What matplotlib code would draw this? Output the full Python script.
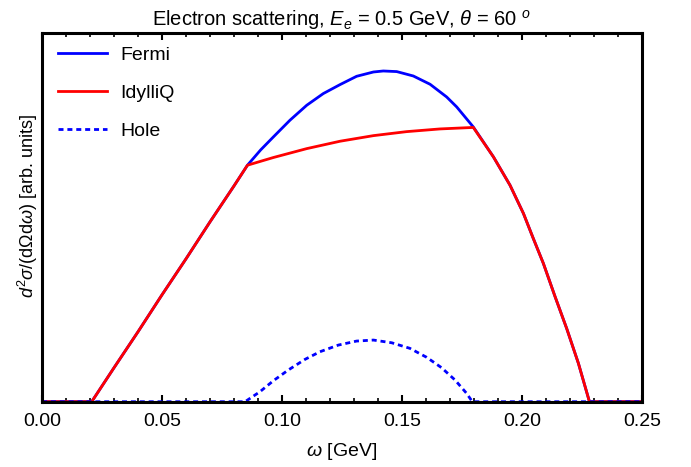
import numpy as np
import matplotlib as mpl
mpl.use("Agg")
import matplotlib.pyplot as plt

# values (y in arbitrary units)
fermi_w = [0.0, 0.0207, 0.03, 0.04, 0.05, 0.06, 0.07, 0.08, 0.0856,
           0.0911, 0.0964, 0.1033, 0.1103, 0.1172, 0.1242, 0.1311, 0.1381,
           0.1422, 0.1478, 0.1547, 0.1617, 0.1686, 0.1728, 0.1797,
           0.1881, 0.1950, 0.2006, 0.2047, 0.2089, 0.2138, 0.2186,
           0.2235, 0.2281, 0.25]
fermi_y = [0.0, 0.0, 0.34, 0.70, 1.07, 1.43, 1.80, 2.16, 2.367,
           2.52, 2.65, 2.817, 2.967, 3.084, 3.174, 3.257, 3.30,
           3.31, 3.304, 3.26, 3.177, 3.05, 2.95, 2.75,
           2.45, 2.167, 1.884, 1.634, 1.384, 1.05, 0.734,
           0.384, 0.0, 0.0]

idylliq_w = [0.0, 0.0207, 0.03, 0.04, 0.05, 0.06, 0.07, 0.08, 0.0856,
             0.0964, 0.1103, 0.1242, 0.1381, 0.1519, 0.1658, 0.1750, 0.1797,
             0.1881, 0.1950, 0.2006, 0.2047, 0.2089, 0.2138, 0.2186,
             0.2235, 0.2281, 0.25]
idylliq_y = [0.0, 0.0, 0.34, 0.70, 1.07, 1.43, 1.80, 2.16, 2.367,
             2.444, 2.533, 2.607, 2.663, 2.703, 2.73, 2.74, 2.745,
             2.45, 2.167, 1.884, 1.634, 1.384, 1.05, 0.734,
             0.384, 0.0, 0.0]

hole_w = [0.0, 0.0846, 0.0908, 0.0964, 0.1026, 0.1096, 0.1158, 0.1235,
          0.1311, 0.1381, 0.1457, 0.1533, 0.1603, 0.1665, 0.1721, 0.1769,
          0.1793, 0.25]
hole_y = [0.0, 0.0, 0.10, 0.21, 0.317, 0.424, 0.50, 0.567,
          0.607, 0.617, 0.59, 0.534, 0.444, 0.34, 0.217, 0.084,
          0.0, 0.0]

plt.rcParams["font.family"] = ["Liberation Sans", "DejaVu Sans"]
plt.rcParams["mathtext.fontset"] = "custom"
plt.rcParams["mathtext.rm"] = "Liberation Sans"
plt.rcParams["mathtext.it"] = "Liberation Sans:italic"
plt.rcParams["font.size"] = 14

fig = plt.figure(figsize=(6.91, 4.67), dpi=100)
ax = fig.add_axes([0.0608, 0.1398, 0.8683, 0.7895])

ax.plot(fermi_w, fermi_y, color="blue", lw=2.0, label="Fermi")
ax.plot(idylliq_w, idylliq_y, color="red", lw=2.0, label="IdylliQ")
ax.plot(hole_w, hole_y, color="blue", lw=2.0, ls=(0, (1.8, 1.4)), label="Hole")

ax.set_xlim(0, 0.25)
ax.set_ylim(0, 3.69)
ax.set_xticks(np.arange(0, 0.2501, 0.05))
ax.set_xticklabels(["0.00", "0.05", "0.10", "0.15", "0.20", "0.25"])
ax.set_xticks(np.arange(0, 0.2501, 0.01), minor=True)
ax.set_yticks([])
ax.tick_params(axis="x", which="major", direction="in", length=5, width=1.5,
               top=True, pad=8)
ax.tick_params(axis="x", which="minor", direction="in", length=3, width=1.2,
               top=True)
for s in ax.spines.values():
    s.set_linewidth(2.2)

ax.set_xlabel(r"$\omega$ [GeV]", labelpad=8)
ax.set_ylabel(r"$d^2\sigma/(\mathrm{d}\Omega\mathrm{d}\omega)$ [arb. units]",
              fontsize=13)
ax.yaxis.set_label_coords(-0.003, 0.531)
ax.set_title(r"Electron scattering, $E_e$ = 0.5 GeV, $\theta$ = 60 $^o$",
             fontsize=14.5, pad=5)

ax.legend(loc="upper left", bbox_to_anchor=(0.02, 0.975), frameon=False,
          handlelength=2.5, handletextpad=0.7, labelspacing=1.05,
          borderpad=0.2, borderaxespad=0)

fig.savefig("out.png", dpi=100)
